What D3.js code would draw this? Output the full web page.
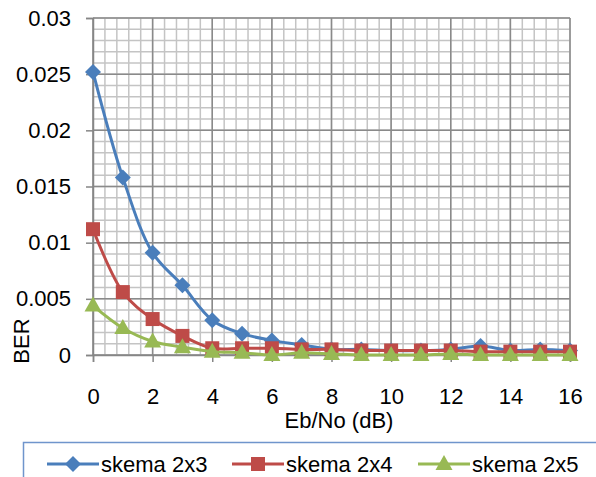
<!DOCTYPE html>
<html>
<head>
<meta charset="utf-8">
<script src="https://cdn.jsdelivr.net/npm/d3@7"></script>
<style>
  body { margin: 0; background: #fff; }
  svg text { font-family: "Liberation Sans", Arial, sans-serif; fill: #000; }
</style>
</head>
<body>
<div id="chart"></div>
<script>
// BER vs Eb/No for three schemes
const ebno = [0, 1, 2, 3, 4, 5, 6, 7, 8, 9, 10, 11, 12, 13, 14, 15, 16];
const skema2x3 = [0.0252, 0.0158, 0.0091, 0.0062, 0.0031, 0.0019, 0.0013, 0.0009, 0.0005, 0.0005, 0.0004, 0.0004, 0.0005, 0.0008, 0.0004, 0.0005, 0.0004];
const skema2x4 = [0.0112, 0.0056, 0.0032, 0.0017, 0.0006, 0.0006, 0.0006, 0.0005, 0.0005, 0.0004, 0.0004, 0.0004, 0.0004, 0.0003, 0.0003, 0.0003, 0.0003];
const skema2x5 = [0.0044, 0.0024, 0.0012, 0.0007, 0.0003, 0.0002, 0.0000, 0.0002, 0.0001, 0.0000, 0.0000, 0.0000, 0.0001, 0.0000, 0.0000, 0.0000, 0.0000];
const seriesNames = ["skema 2x3", "skema 2x4", "skema 2x5"];
const xTicks = [0, 2, 4, 6, 8, 10, 12, 14, 16];
const yTicks = [0, 0.005, 0.01, 0.015, 0.02, 0.025, 0.03];

const W = 596, H = 477;
const plotLeft = 93, plotRight = 570, plotTop = 18, plotBottom = 355;

const svg = d3.select("#chart").append("svg")
  .attr("width", W).attr("height", H);

const x = d3.scaleLinear().domain([0, 16]).range([plotLeft, plotRight]);
const y = d3.scaleLinear().domain([0, 0.03]).range([plotBottom, plotTop]);

// minor grid
const grid = svg.append("g");
grid.selectAll(".vminor").data(d3.range(0, 41).map(i => i * 0.4))
  .enter().append("line")
  .attr("x1", d => x(d)).attr("x2", d => x(d))
  .attr("y1", plotTop).attr("y2", plotBottom)
  .attr("stroke", "#c4c4c4").attr("stroke-width", 1.5);
grid.selectAll(".hminor").data(d3.range(0, 31).map(i => i * 0.001))
  .enter().append("line")
  .attr("x1", plotLeft).attr("x2", plotRight)
  .attr("y1", d => y(d)).attr("y2", d => y(d))
  .attr("stroke", "#c4c4c4").attr("stroke-width", 1.5);

// major grid
grid.selectAll(".vmajor").data(xTicks)
  .enter().append("line")
  .attr("x1", d => x(d)).attr("x2", d => x(d))
  .attr("y1", plotTop).attr("y2", plotBottom)
  .attr("stroke", "#8a8a8a").attr("stroke-width", 1.5);
grid.selectAll(".hmajor").data(yTicks)
  .enter().append("line")
  .attr("x1", plotLeft).attr("x2", plotRight)
  .attr("y1", d => y(d)).attr("y2", d => y(d))
  .attr("stroke", "#8a8a8a").attr("stroke-width", 1.5);

// axes
const xAxis = svg.append("g")
  .attr("transform", `translate(0,${plotBottom})`)
  .call(d3.axisBottom(x).tickValues(xTicks).tickSize(7).tickPadding(26).tickFormat(d => d));
const yAxis = svg.append("g")
  .attr("transform", `translate(${plotLeft},0)`)
  .call(d3.axisLeft(y).tickValues(yTicks).tickSize(7).tickPadding(15).tickFormat(d => +d.toFixed(3)));
[xAxis, yAxis].forEach(a => {
  a.select(".domain").attr("stroke", "#868686").attr("stroke-width", 1.5);
  a.selectAll(".tick line").attr("stroke", "#868686").attr("stroke-width", 1.5);
  a.selectAll("text").attr("font-size", 22).attr("font-family", "Liberation Sans, Arial, sans-serif").attr("fill", "#000");
});

// axis titles
svg.append("text").attr("x", 339).attr("y", 428)
  .attr("text-anchor", "middle").attr("font-size", 22).text("Eb/No (dB)");
svg.append("text").attr("transform", "translate(29,341) rotate(-90)")
  .attr("text-anchor", "middle").attr("font-size", 22).text("BER");

// series
const colors = ["#4a7ebb", "#be4b48", "#98b954"];
const markers = [
  "M0,-8L8,0L0,8L-8,0Z",
  "M-7,-7H7V7H-7Z",
  "M0,-9L8.5,6L-8.5,6Z"
];
const allSeries = [skema2x3, skema2x4, skema2x5];

const line = d3.line()
  .x((d, i) => x(ebno[i]))
  .y(d => y(d))
  .curve(d3.curveCatmullRom.alpha(0.5));

allSeries.forEach((vals, k) => {
  const g = svg.append("g");
  g.append("path").datum(vals)
    .attr("d", line)
    .attr("fill", "none")
    .attr("stroke", colors[k])
    .attr("stroke-width", 3);
  g.selectAll("path.m").data(vals).enter().append("path")
    .attr("class", "m")
    .attr("d", markers[k])
    .attr("transform", (d, i) => `translate(${x(ebno[i])},${y(d)})`)
    .attr("fill", colors[k]);
});

// legend
const legend = svg.append("g");
legend.append("rect")
  .attr("x", 23.5).attr("y", 442.5).attr("width", 620).attr("height", 50)
  .attr("fill", "#fff").attr("stroke", "#6f95cc").attr("stroke-width", 1.5);
const legX = [47, 232, 418];
seriesNames.forEach((name, k) => {
  const lg = legend.append("g").attr("transform", `translate(${legX[k]},464)`);
  lg.append("line").attr("x1", 0).attr("x2", 52).attr("y1", 0).attr("y2", 0)
    .attr("stroke", colors[k]).attr("stroke-width", 3);
  lg.append("path").attr("d", markers[k]).attr("transform", "translate(26,0)")
    .attr("fill", colors[k]);
  lg.append("text").attr("x", 54).attr("y", 8).attr("font-size", 22).text(name);
});
</script>
</body>
</html>
